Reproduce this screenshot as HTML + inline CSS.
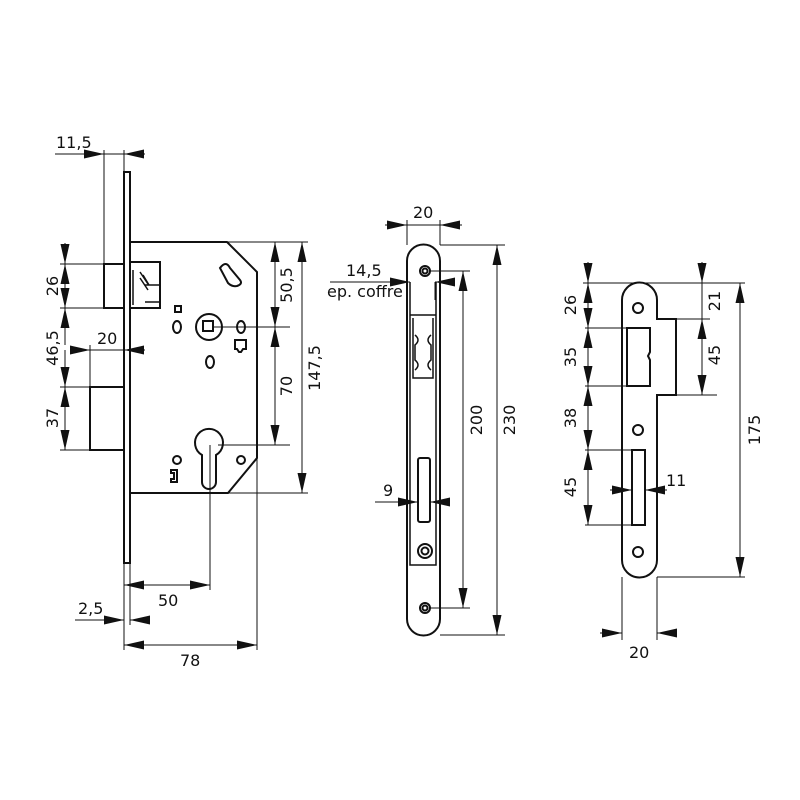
<!DOCTYPE html>
<html><head><style>html,body{margin:0;background:#fff}svg{display:block}text{font-family:"DejaVu Sans","Liberation Sans",sans-serif;font-size:16px;fill:#111}</style></head><body>
<svg width="800" height="800" viewBox="0 0 800 800" xmlns="http://www.w3.org/2000/svg">
<defs>
<marker id="a" viewBox="0 0 10 10" preserveAspectRatio="none" refX="10" refY="5" markerWidth="20" markerHeight="9" markerUnits="userSpaceOnUse" orient="auto"><path d="M0,0L10,5L0,10z" fill="#111"/></marker>
</defs>
<g fill="none" stroke="#111" stroke-width="2">
<rect x="124" y="172" width="6" height="391"/>
<path d="M130,242H227L257,272V458L228,493H130"/>
<rect x="104" y="264" width="20" height="44"/>
<rect x="130" y="262" width="30" height="46"/>
<path d="M133,270V305M145,285H160M145,302H160M140,272l8,12M140,278l8,12M143,275l6,10" stroke-width="1.5"/>
<rect x="90" y="387" width="34" height="63"/>
<circle cx="209" cy="327" r="13"/>
<rect x="203" y="321" width="10" height="10"/>
<ellipse cx="177" cy="327" rx="4" ry="6"/>
<ellipse cx="241" cy="327" rx="4" ry="6"/>
<ellipse cx="210" cy="362" rx="4" ry="6"/>
<rect x="175" y="306" width="6" height="6"/>
<path d="M235,340h11v9h-3l-2,3h-2l-2,-3h-2z"/>
<path d="M220,268q6,-8 10,0l10,12q3,4 -3,6q-5,1 -9,-3z"/>
<path d="M202,482V455A14,14 0 1 1 216,455V482A7,7 0 0 1 202,482Z"/>
<circle cx="177" cy="460" r="4"/>
<circle cx="241" cy="460" r="4"/>
<path d="M171,470h6v12h-6v-3h3v-6h-3z"/>
<path d="M407,261A16,16 0 0 1 440,261V619A16,16 0 0 1 407,619Z"/>
<path d="M410,282V565H436V282M410,315H436" stroke-width="1.5"/>
<path d="M413,318V378H433V318M415,335q6,5 0,10V360q6,5 0,10M431,335q-6,5 0,10V360q-6,5 0,10" stroke-width="1.5"/>
<rect x="418" y="458" width="12" height="64" rx="2"/>
<circle cx="425" cy="551" r="7"/><circle cx="425" cy="551" r="3.5"/>
<circle cx="425" cy="271" r="5"/><circle cx="425" cy="271" r="2.5"/>
<circle cx="425" cy="608" r="5"/><circle cx="425" cy="608" r="2.5"/>
<path d="M622,560V300A17,17 0 0 1 657,300V319H676V395H657V560A17,17 0 0 1 622,560Z"/>
<path d="M627,328H650V352l-2,4l2,4V386H627Z"/>
<rect x="632" y="450" width="13" height="75"/>
<circle cx="638" cy="308" r="5"/><circle cx="638" cy="430" r="5"/><circle cx="638" cy="552" r="5"/>
</g>
<g fill="none" stroke="#111" stroke-width="1">
<path d="M104,150V264M124,150V172M60,264H104M60,308H124M60,387H90M60,450H90M90,345V387M124,345V387"/>
<path d="M227,242H308M213,327H290M218,445H290M130,493H308"/>
<path d="M124,563V650M130,563V625M210,445V590M257,458V650"/>
<path d="M55,154H104" marker-end="url(#a)"/><path d="M145,154H124" marker-end="url(#a)"/>
<path d="M104,154H124"/>
<path d="M65,243V264" marker-end="url(#a)"/>
<path d="M65,264V308" marker-end="url(#a)"/><path d="M65,308V264" marker-end="url(#a)"/>
<path d="M65,350V387" marker-end="url(#a)"/><path d="M65,345V308" marker-end="url(#a)"/>
<path d="M65,387V450" marker-end="url(#a)"/><path d="M65,450V387" marker-end="url(#a)"/>
<path d="M70,350H90" marker-end="url(#a)"/><path d="M145,350H124" marker-end="url(#a)"/><path d="M90,350H124"/>
<path d="M275,242V327" marker-end="url(#a)"/><path d="M275,327V242" marker-end="url(#a)"/>
<path d="M275,327V445" marker-end="url(#a)"/><path d="M275,445V327" marker-end="url(#a)"/>
<path d="M302,242V493" marker-end="url(#a)"/><path d="M302,493V242" marker-end="url(#a)"/>
<path d="M124,585H210" marker-end="url(#a)"/><path d="M210,585H124" marker-end="url(#a)"/>
<path d="M75,620H124" marker-end="url(#a)"/><path d="M150,620H130" marker-end="url(#a)"/>
<path d="M124,645H257" marker-end="url(#a)"/><path d="M257,645H124" marker-end="url(#a)"/>
<path d="M407,220V245M440,220V245M440,245H505M430,271H470M430,608H470M440,635H505M410,282V300M435,282V300"/>
<path d="M385,225H407" marker-end="url(#a)"/><path d="M462,225H440" marker-end="url(#a)"/><path d="M407,225H440"/>
<path d="M330,282H410" marker-end="url(#a)"/><path d="M455,282H435" marker-end="url(#a)"/>
<path d="M463,271V608" marker-end="url(#a)"/><path d="M463,608V271" marker-end="url(#a)"/>
<path d="M497,245V635" marker-end="url(#a)"/><path d="M497,635V245" marker-end="url(#a)"/>
<path d="M375,502H418" marker-end="url(#a)"/><path d="M447,502H430" marker-end="url(#a)"/>
<path d="M583,283H745M585,328H627M585,386H627M585,450H632M585,525H632M676,319H710M676,395H717M657,577H745M622,577V640M657,577V640"/>
<path d="M588,262V283" marker-end="url(#a)"/><path d="M588,328V283" marker-end="url(#a)"/><path d="M588,283V328" marker-end="url(#a)"/>
<path d="M588,386V328" marker-end="url(#a)"/><path d="M588,328V386" marker-end="url(#a)"/>
<path d="M588,450V386" marker-end="url(#a)"/><path d="M588,386V450" marker-end="url(#a)"/>
<path d="M588,525V450" marker-end="url(#a)"/><path d="M588,450V525" marker-end="url(#a)"/>
<path d="M702,262V283" marker-end="url(#a)"/><path d="M702,283V319"/>
<path d="M702,319V395" marker-end="url(#a)"/><path d="M702,395V319" marker-end="url(#a)"/>
<path d="M740,283V577" marker-end="url(#a)"/><path d="M740,577V283" marker-end="url(#a)"/>
<path d="M610,490H632" marker-end="url(#a)"/><path d="M667,490H645" marker-end="url(#a)"/>
<path d="M600,633H622" marker-end="url(#a)"/><path d="M677,633H657" marker-end="url(#a)"/>
</g>
<text x="56" y="148">11,5</text>
<text x="97" y="344">20</text>
<text x="58" y="286" transform="rotate(-90 58 286)" text-anchor="middle">26</text>
<text x="58" y="348" transform="rotate(-90 58 348)" text-anchor="middle">46,5</text>
<text x="58" y="418" transform="rotate(-90 58 418)" text-anchor="middle">37</text>
<text x="292" y="285" transform="rotate(-90 292 285)" text-anchor="middle">50,5</text>
<text x="292" y="386" transform="rotate(-90 292 386)" text-anchor="middle">70</text>
<text x="320" y="368" transform="rotate(-90 320 368)" text-anchor="middle">147,5</text>
<text x="158" y="606">50</text>
<text x="78" y="614">2,5</text>
<text x="180" y="666">78</text>
<text x="413" y="218">20</text>
<text x="346" y="276">14,5</text>
<text x="327" y="297">ep. coffre</text>
<text x="482" y="420" transform="rotate(-90 482 420)" text-anchor="middle">200</text>
<text x="515" y="420" transform="rotate(-90 515 420)" text-anchor="middle">230</text>
<text x="383" y="496">9</text>
<text x="576" y="305" transform="rotate(-90 576 305)" text-anchor="middle">26</text>
<text x="576" y="357" transform="rotate(-90 576 357)" text-anchor="middle">35</text>
<text x="576" y="418" transform="rotate(-90 576 418)" text-anchor="middle">38</text>
<text x="576" y="487" transform="rotate(-90 576 487)" text-anchor="middle">45</text>
<text x="720" y="301" transform="rotate(-90 720 301)" text-anchor="middle">21</text>
<text x="720" y="355" transform="rotate(-90 720 355)" text-anchor="middle">45</text>
<text x="760" y="430" transform="rotate(-90 760 430)" text-anchor="middle">175</text>
<text x="666" y="486">11</text>
<text x="629" y="658">20</text>
</svg>
</body></html>
